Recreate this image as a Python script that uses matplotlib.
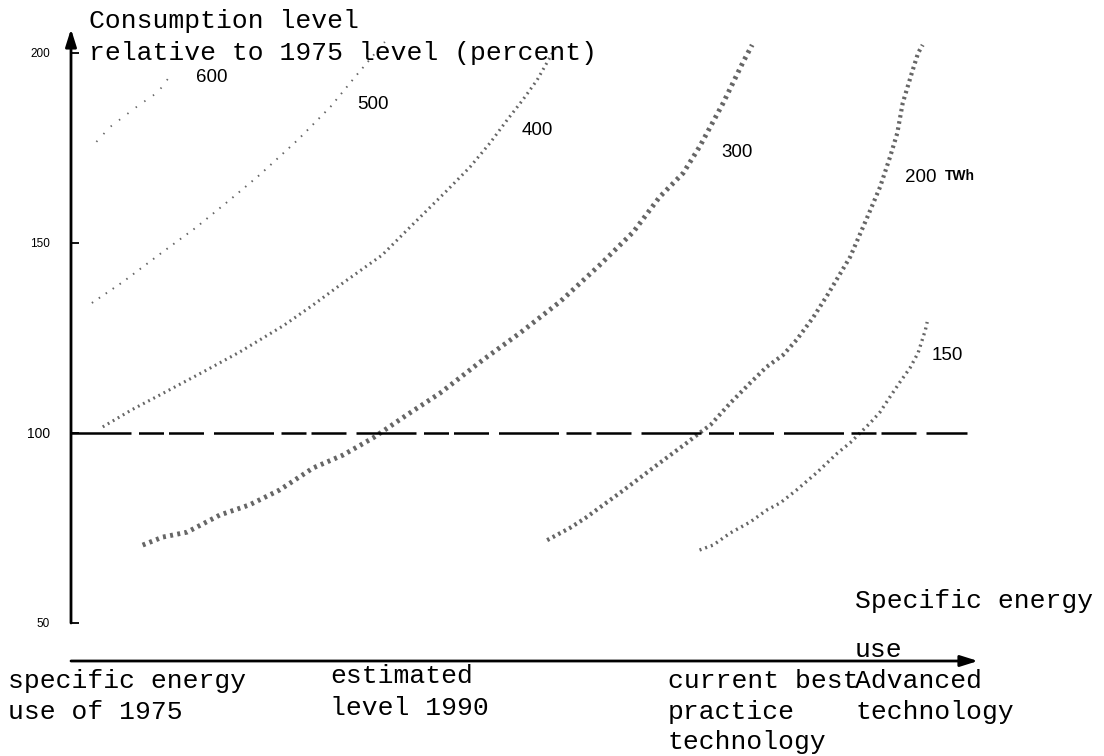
import matplotlib
matplotlib.use("Agg")
import matplotlib.pyplot as plt

# x: specific energy use index (0 = 1975 level, 100 = end of axis arrow)
# y: consumption level relative to 1975 level (percent)
x_600 = [2.8, 4.3, 7.4, 9.6, 11.1]
y_600 = [176.6, 180.5, 186.1, 189.7, 194.5]

x_500 = [2.3, 5.7, 10.1, 13.7, 17.5, 20.8, 25.0, 28.6, 31.5, 34.6]
y_500 = [134.2, 139.7, 147.6, 153.9, 161.3, 167.9, 177.1, 185.8, 194.2, 202.9]

x_400 = [3.5, 6.7, 9.8, 14.6, 18.6, 23.4, 26.7, 30.0, 34.3, 37.4, 41.5, 44.0,
         46.2, 48.1, 49.8, 51.4, 53.4]
y_400 = [101.6, 106.1, 110.0, 116.1, 121.3, 128.2, 133.7, 139.5, 146.8, 154.2,
         163.9, 170.0, 176.3, 182.4, 187.6, 192.9, 201.3]

x_300 = [7.9, 10.1, 12.8, 16.4, 19.7, 23.0, 26.7, 30.0, 33.3, 37.0, 40.7, 45.4,
         49.5, 53.9, 58.3, 62.0, 64.9, 67.5, 69.3, 71.9, 74.1, 75.1]
y_300 = [70.5, 72.6, 73.9, 78.4, 81.1, 85.0, 90.8, 94.2, 98.7, 104.7, 110.5, 119.2,
         126.3, 134.5, 144.2, 152.9, 162.1, 168.4, 175.3, 186.8, 197.6, 202.1]

x_200 = [52.5, 55.0, 56.7, 60.5, 62.4, 64.9, 67.9, 69.3, 70.5, 72.7, 74.9, 76.7,
         78.5, 80.0, 81.8, 83.4, 85.9, 87.8, 89.2, 90.3, 91.1, 91.7, 92.7, 93.4, 93.9]
y_200 = [71.8, 75.0, 77.6, 84.2, 87.6, 92.1, 97.4, 100.0, 102.1, 107.9, 113.2, 117.4,
         120.5, 124.5, 130.3, 136.3, 146.3, 156.8, 164.7, 172.6, 178.9, 186.8, 194.7,
         200.0, 202.1]

x_150 = [69.3, 70.8, 72.7, 74.9, 76.7, 78.2, 80.0, 82.2, 84.5, 85.9, 87.0, 88.1,
         89.2, 90.3, 91.4, 92.5, 93.4, 94.2, 94.4]
y_150 = [69.2, 70.5, 73.7, 76.6, 79.7, 81.6, 85.0, 89.5, 94.7, 97.4, 100.0, 102.6,
         105.5, 109.5, 113.4, 117.1, 121.1, 127.1, 129.2]

curve_labels = ["600", "500", "400", "300", "200", "150"]
y_ticks = [50, 100, 150, 200]
ref_level = 100

x_categories = ["specific energy\nuse of 1975", "estimated\nlevel 1990",
                "current best\npractice\ntechnology", "Advanced\ntechnology"]

W, H = 1104, 756
MONO = "Liberation Mono"
SANS = "Liberation Sans"


def fig_text(fig, px, py, s, **kw):
    """Place text using pixel coordinates (origin top-left)."""
    return fig.text(px / W, 1 - py / H, s, **kw)


def block(fig, px, baselines, text, size=19):
    for line, py in zip(text.split("\n"), baselines):
        fig_text(fig, px, py, line, family=MONO, fontsize=size, va="baseline")


fig = plt.figure(figsize=(W / 100, H / 100), dpi=100)
ax = fig.add_axes([71 / W, 1 - 661 / H, 907 / W, 629 / H])
ax.set_xlim(0, 100)
ax.set_ylim(40, 205.5)
for s in ax.spines.values():
    s.set_visible(False)
ax.set_xticks([])
ax.set_yticks(y_ticks)
ax.set_yticklabels([str(t) for t in y_ticks], family=SANS)
for t, lab in zip(y_ticks, ax.get_yticklabels()):
    lab.set_fontsize(10 if t == ref_level else 8.5)
ax.tick_params(axis="y", direction="in", length=6, width=1.3, pad=15)

# curves (stippled grey); sparse dots for the upper curves
curves = [(x_600, y_600, 1.3, (0, (0.8, 5))),
          (x_500, y_500, 1.4, (0, (0.8, 3.5))),
          (x_400, y_400, 2.2, (0, (0.6, 1.3))),
          (x_300, y_300, 3.5, (0, (0.6, 0.9))),
          (x_200, y_200, 3.0, (0, (0.6, 0.9))),
          (x_150, y_150, 2.4, (0, (0.6, 1.2)))]
for xs, ys, lw, ls in curves:
    ax.plot(xs, ys, color="0.4", lw=lw, linestyle=ls,
            solid_capstyle="butt", dash_capstyle="butt")

# 1975 reference level
ax.plot([0, 98.8], [ref_level, ref_level], color="black", lw=1.8,
        linestyle=(0, (24, 3, 10, 2, 14, 4)))

# axes arrows
arrow = dict(arrowstyle="-|>,head_width=0.22,head_length=0.7", color="black",
             lw=2, shrinkA=0, shrinkB=0, mutation_scale=15)
ax.annotate("", xy=(0, 206.3), xytext=(0, 50), arrowprops=arrow,
            annotation_clip=False)
ax.annotate("", xy=(100, 40), xytext=(0, 40), arrowprops=arrow,
            annotation_clip=False)

# curve labels
label_pos = [(15.5, 193.4), (33.3, 186.3), (51.4, 179.7), (73.4, 173.7),
             (92.0, 167.1), (96.6, 120.5)]
for (lx, ly), lab in zip(label_pos, curve_labels):
    ha = "left" if lab == "200" else "center"
    ax.text(lx, ly, lab, family=SANS, fontsize=13.5, ha=ha, va="center")
ax.text(96.3, 167.6, "TWh", family=SANS, fontsize=10, fontweight="bold",
        ha="left", va="center")

# title of the y axis
block(fig, 89, [28, 60], "Consumption level\nrelative to 1975 level (percent)")

# x axis title and category labels
block(fig, 855, [608, 657], "Specific energy\nuse")
block(fig, 8, [688, 719], x_categories[0])
block(fig, 330, [683, 715], x_categories[1])
block(fig, 668, [688, 719, 749], x_categories[2])
block(fig, 855, [688, 719], x_categories[3])

fig.savefig("out.png", dpi=100)
